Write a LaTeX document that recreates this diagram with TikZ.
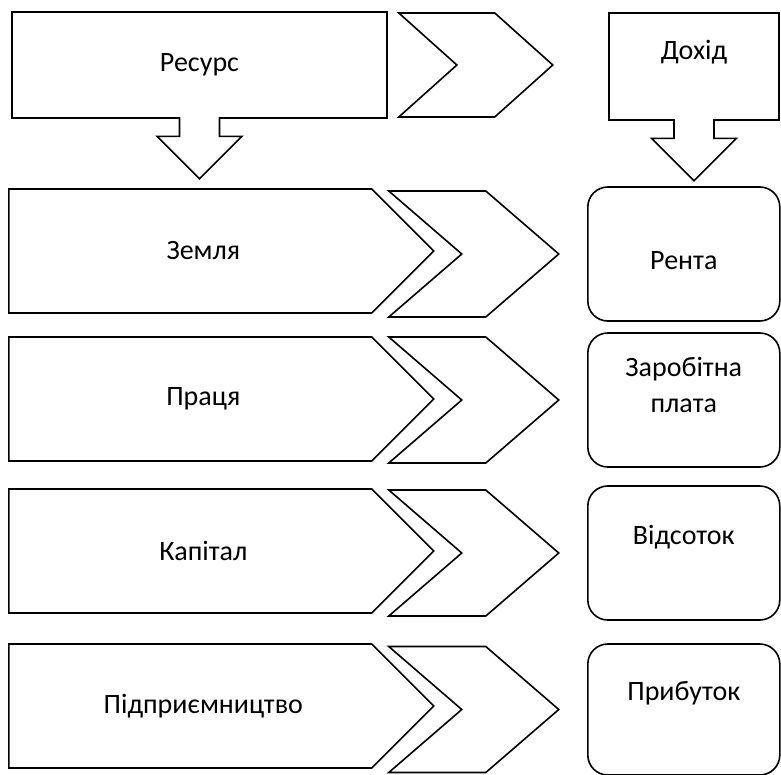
\documentclass[tikz,border=0pt]{standalone}
\usepackage{fontspec}
\setmainfont{Carlito}
\usetikzlibrary{positioning, shapes.symbols, shapes.arrows}

\begin{document}
\begin{tikzpicture}[
  x=1pt, y=-1pt,
  font=\fontsize{28}{36}\selectfont,
  plate/.style={draw, line width=1.6pt, shape=signal, signal to=east,
    signal pointer angle=90, minimum width=425pt, minimum height=124pt,
    inner sep=0pt, anchor=west, execute at begin node=\hspace*{26pt}},
  chev/.style={draw, line width=1.6pt, shape=signal, signal from=west,
    signal to=east, signal pointer angle=81.6, minimum width=170pt,
    minimum height=126pt, inner sep=0pt, anchor=east},
  income/.style={draw, line width=1.6pt, rounded corners=20pt,
    minimum width=192pt, minimum height=134pt, align=center, inner sep=0pt},
  callout/.style={draw, line width=1.6pt, shape=arrow box,
    arrow box shaft width=40pt, arrow box head extend=22.5pt,
    inner sep=0pt, align=center},
]
  \useasboundingbox (0,0) rectangle (781,774);

  % top row
  \node[callout, minimum width=375pt, minimum height=106pt,
    arrow box arrows={south:60pt}] (res) at (199.5,65) {Ресурс};
  \node[chev, minimum width=154pt, minimum height=104pt,
    signal pointer angle=83.7] (top) at (554,65) {};
  \node[callout, minimum width=170pt, minimum height=107pt,
    arrow box arrows={south:60pt}] (doh) at (694,66.5) {Дохід\\[-14pt] \strut};

  % resources
  \node[plate] (land)    at (8,251) {Земля};
  \node[plate] (labour)  at (8,399) {Праця};
  \node[plate] (capital) at (8,551) {Капітал};
  \node[plate] (enter)   at (8,706) {Підприємництво};

  \node[chev] (c1) at (560,254)   {};
  \node[chev] (c2) at (560,400)   {};
  \node[chev] (c3) at (560,553)   {};
  \node[chev] (c4) at (560,709.5) {};

  % incomes
  \node[income, right=27pt of c1] (rent)   {\strut\\[-30pt] Рента};
  \node[income, right=27pt of c2] (wage)   {Заробітна\\плата\\[-16pt] \strut};
  \node[income, right=27pt of c3] (intr)   {Відсоток\\[-10pt] \strut};
  \node[income, right=27pt of c4, minimum height=131pt] (profit) {Прибуток\\[-10pt] \strut};
\end{tikzpicture}
\end{document}
